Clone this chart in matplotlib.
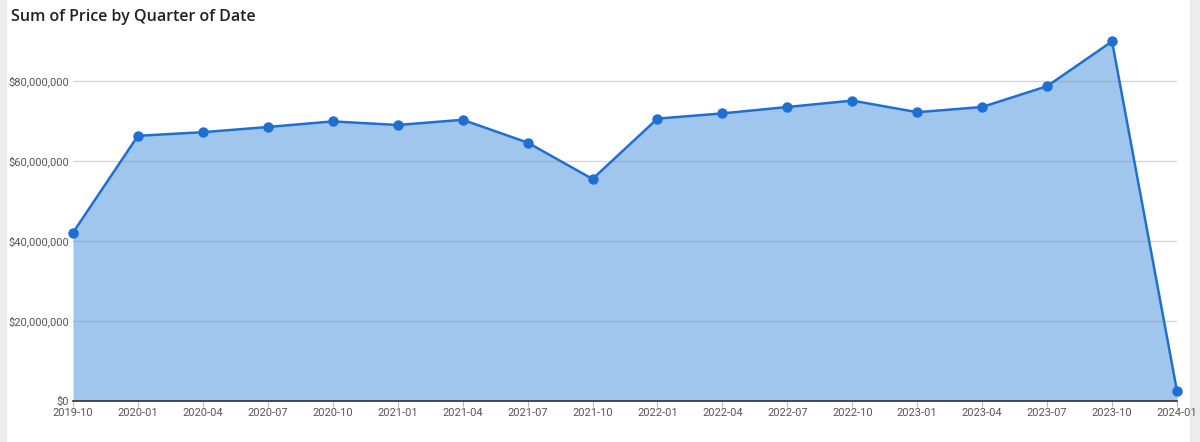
import matplotlib
matplotlib.use("Agg")
import matplotlib.pyplot as plt
from matplotlib.patches import Rectangle
from matplotlib.ticker import FuncFormatter

quarters = ["2019-10", "2020-01", "2020-04", "2020-07", "2020-10", "2021-01",
            "2021-04", "2021-07", "2021-10", "2022-01", "2022-04", "2022-07",
            "2022-10", "2023-01", "2023-04", "2023-07", "2023-10", "2024-01"]
price = [42.1, 66.3, 67.2, 68.5, 69.9, 69.0, 70.3, 64.6, 55.5, 70.6,
         71.9, 73.5, 75.1, 72.2, 73.5, 78.7, 89.9, 2.5]  # millions
price = [p * 1e6 for p in price]
y_ticks = [0, 20e6, 40e6, 60e6, 80e6]

line_col = "#1f6fd2"
fill_col = "#a1c6ed"

fig = plt.figure(figsize=(12, 4.42), dpi=100)
ax = fig.add_axes([73 / 1200, 41 / 442, (1177 - 73) / 1200, (401 - 41) / 442])
ax.set_facecolor("none")

x = list(range(len(quarters)))
ax.fill_between(x, price, 0, color=fill_col, zorder=1, linewidth=0)
ax.plot(x, price, color=line_col, linewidth=1.8, marker="o", markersize=6.5,
        zorder=3, clip_on=False)

ax.set_xlim(0, len(quarters) - 1)
ax.set_ylim(0, 90e6)
ax.set_yticks(y_ticks)
ax.yaxis.set_major_formatter(FuncFormatter(lambda v, p: f"${v:,.0f}"))
ax.set_xticks(x)
ax.set_xticklabels(quarters)

ax.grid(axis="y", color="#8a8a8a", alpha=0.35, linewidth=1, zorder=2)
ax.set_axisbelow(False)
for s in ["top", "right", "left"]:
    ax.spines[s].set_visible(False)
ax.spines["bottom"].set_color("#333333")
ax.spines["bottom"].set_linewidth(1.2)
ax.spines["bottom"].set_zorder(4)

ax.tick_params(axis="y", length=0, pad=3, labelsize=8, labelcolor="#555555")
ax.tick_params(axis="x", length=4, color="#bbbbbb", pad=1, labelsize=8,
               labelcolor="#555555")
for lab in ax.get_xticklabels() + ax.get_yticklabels():
    lab.set_fontfamily("Roboto")

fig.text(11 / 1200, 1 - 17 / 442, "Sum of Price by Quarter of Date",
         fontsize=11.5, fontweight="semibold", fontfamily="Open Sans",
         color="#222222", va="center", ha="left")

# light grey frame strips at the edges, drawn underneath everything
fig.patches.append(Rectangle((0, 0), 6 / 1200, 1, transform=fig.transFigure,
                             color="#ececec", zorder=-5))
fig.patches.append(Rectangle((1190 / 1200, 0), 10 / 1200, 1,
                             transform=fig.transFigure, color="#ececec", zorder=-5))

fig.savefig("out.png", dpi=100)
